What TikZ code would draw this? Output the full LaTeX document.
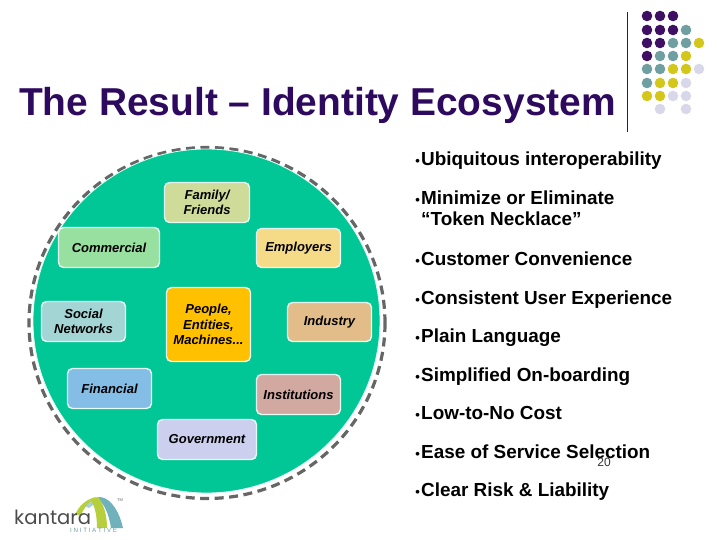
\documentclass[tikz,border=0pt]{standalone}
\usepackage{fontspec}
\setmainfont{Liberation Sans}
\newfontfamily\logofont{Poppins}
\definecolor{titlepurple}{HTML}{2E0A5E}
\definecolor{dpurple}{HTML}{3F0F63}
\definecolor{dteal}{HTML}{6F9FA0}
\definecolor{dyellow}{HTML}{D3C71C}
\definecolor{dlilac}{HTML}{D8D8EA}
\definecolor{ecogreen}{HTML}{00C795}
\definecolor{dashgray}{HTML}{666666}
\definecolor{edgepale}{HTML}{E4FBF4}
\definecolor{cFamily}{HTML}{CFDB99}
\definecolor{cCommercial}{HTML}{98E0A0}
\definecolor{cEmployers}{HTML}{F5DA88}
\definecolor{cSocial}{HTML}{A4D5D5}
\definecolor{cFinancial}{HTML}{84BDE5}
\definecolor{cPeople}{HTML}{FFC000}
\definecolor{cIndustry}{HTML}{E2BD8A}
\definecolor{cInstitutions}{HTML}{D1A9A0}
\definecolor{cGovernment}{HTML}{CCCFEE}
\definecolor{logoGreen}{HTML}{B7CF3C}
\definecolor{logoTeal}{HTML}{6FB2BC}
\definecolor{logoBlue}{HTML}{A9D0D8}
\tikzset{
  x=1pt,y=-1pt,
  eco/.style={draw=edgepale,line width=1.4pt,rounded corners=5pt,inner sep=0pt,
     font=\fontsize{13}{15.5}\selectfont\bfseries\itshape,align=center,text=black},
  bul/.style={anchor=base west,inner sep=0pt,font=\fontsize{18.9}{20.5}\selectfont\bfseries,text=black,align=left},
  bdot/.style={anchor=base east,inner sep=0pt,font=\fontsize{13}{13}\selectfont\bfseries,text=black},
}
\newcommand{\ecobox}[7]{\node[eco,fill=#6,minimum width=#3pt-#1pt-1pt,minimum height=#4pt-#2pt-1pt] (#5) at ({(#1+#3)/2},{(#2+#4)/2}) {#7};}
\newcommand{\bulline}[3]{\node[bdot] (#1d) at (420,#2) {•};\node[bul] (#1) at (421,#2) {#3};}
\newcommand{\dotat}[3]{\fill[#3] (#1,#2) circle (5.3);}
\begin{document}
\begin{tikzpicture}
\useasboundingbox (0,0) rectangle (720,540);
\fill[white] (0,0) rectangle (720,540);
% title
\node[anchor=base west,inner sep=0pt,text=titlepurple,font=\fontsize{38.9}{42}\selectfont\bfseries] (title) at (19,116) {The Result – Identity Ecosystem};
\coordinate (ruleA) at (627,12);
\coordinate (ruleB) at (627,132);
\draw[black!85,line width=0.8pt] (ruleA) -- (ruleB);
% dots
\foreach \px/\py/\c in {
647/16/dpurple,660/16/dpurple,673/16/dpurple,
647/30/dpurple,660/30/dpurple,673/30/dpurple,686/30/dteal,
647/43/dpurple,660/43/dpurple,673/43/dteal,686/43/dteal,699/43/dyellow,
647/56/dpurple,660/56/dteal,673/56/dteal,686/56/dyellow,
647/69/dteal,660/69/dteal,673/69/dyellow,686/69/dyellow,699/69/dlilac,
647/83/dteal,660/83/dyellow,673/83/dyellow,686/83/dlilac,
647/96/dyellow,660/96/dyellow,673/96/dlilac,686/96/dlilac,
660/109/dlilac,686/109/dlilac}{\dotat{\px}{\py}{\c}}
% ecosystem
\draw[dashgray,line width=3.2pt,dash pattern=on 9pt off 5.5pt] (207,323) ellipse (178 and 175.5);
\fill[ecogreen,draw=edgepale,line width=0.8pt] (206.5,321) ellipse (173.5 and 172);
\ecobox{164}{182}{250}{223}{family}{cFamily}{Family/\\Friends}
\ecobox{58}{227}{160}{268}{commercial}{cCommercial}{Commercial}
\ecobox{256}{228}{341}{268}{employers}{cEmployers}{Employers}
\ecobox{41}{301}{126}{342}{social}{cSocial}{Social\\Networks}
\ecobox{166}{287}{251}{362}{people}{cPeople}{People,\\Entities,\\Machines...}
\ecobox{287}{302}{372}{342}{industry}{cIndustry}{Industry}
\ecobox{67}{368}{152}{409}{financial}{cFinancial}{Financial}
\ecobox{256}{374}{341}{415}{institutions}{cInstitutions}{Institutions}
\ecobox{157}{419}{257}{460}{government}{cGovernment}{Government}
% bullets
\bulline{b1}{166}{Ubiquitous interoperability}
\node[bdot] (b2d) at (420,205) {•};
\node[bul] (b2) at (421,225.5) {Minimize or Eliminate\\“Token Necklace”};
\bulline{b3}{265}{Customer Convenience}
\bulline{b4}{304}{Consistent User Experience}
\bulline{b5}{342}{Plain Language}
\bulline{b6}{381}{Simplified On-boarding}
\bulline{b7}{419}{Low-to-No Cost}
\bulline{b8}{458}{Ease of Service Selection}
\bulline{b9}{496}{Clear Risk \& Liability}
\node[inner sep=0pt,font=\fontsize{12}{14}\selectfont,text=black!80] (pagenum) at (604,462) {20};
% logo
\fill[logoTeal] (100,497) .. controls (112,498) and (120,514) .. (123,528) -- (111,528) .. controls (109,514) and (104,503) .. (97,498) -- cycle;
\fill[logoBlue] (85,506) .. controls (87,502) and (90,500) .. (93,499) .. controls (97,503) and (93,505) .. (89,508) -- cycle;
\fill[logoGreen] (98,497) .. controls (104,504) and (107,516) .. (107,528) -- (97,528) .. controls (97,516) and (95,505) .. (90,500) .. controls (93,498) and (96,497) .. (98,497) -- cycle;
\fill[logoGreen] (75,515) .. controls (79,505) and (87,499) .. (96,497) .. controls (88,502) and (84,508) .. (81,515) -- cycle;
\node[anchor=base west,inner sep=0pt,font=\logofont\fontsize{19.6}{22}\selectfont,text=black!70] (kantara) at (14,524) {kantara};
\node[anchor=base west,inner sep=0pt,font=\fontsize{6.2}{7}\selectfont,text=dteal] (initiative) at (70,532.5) {I N I T I A T I V E};
\node[inner sep=0pt,font=\fontsize{4}{4}\selectfont,text=black!60] (tm) at (120,500) {TM};
\end{tikzpicture}
\end{document}
